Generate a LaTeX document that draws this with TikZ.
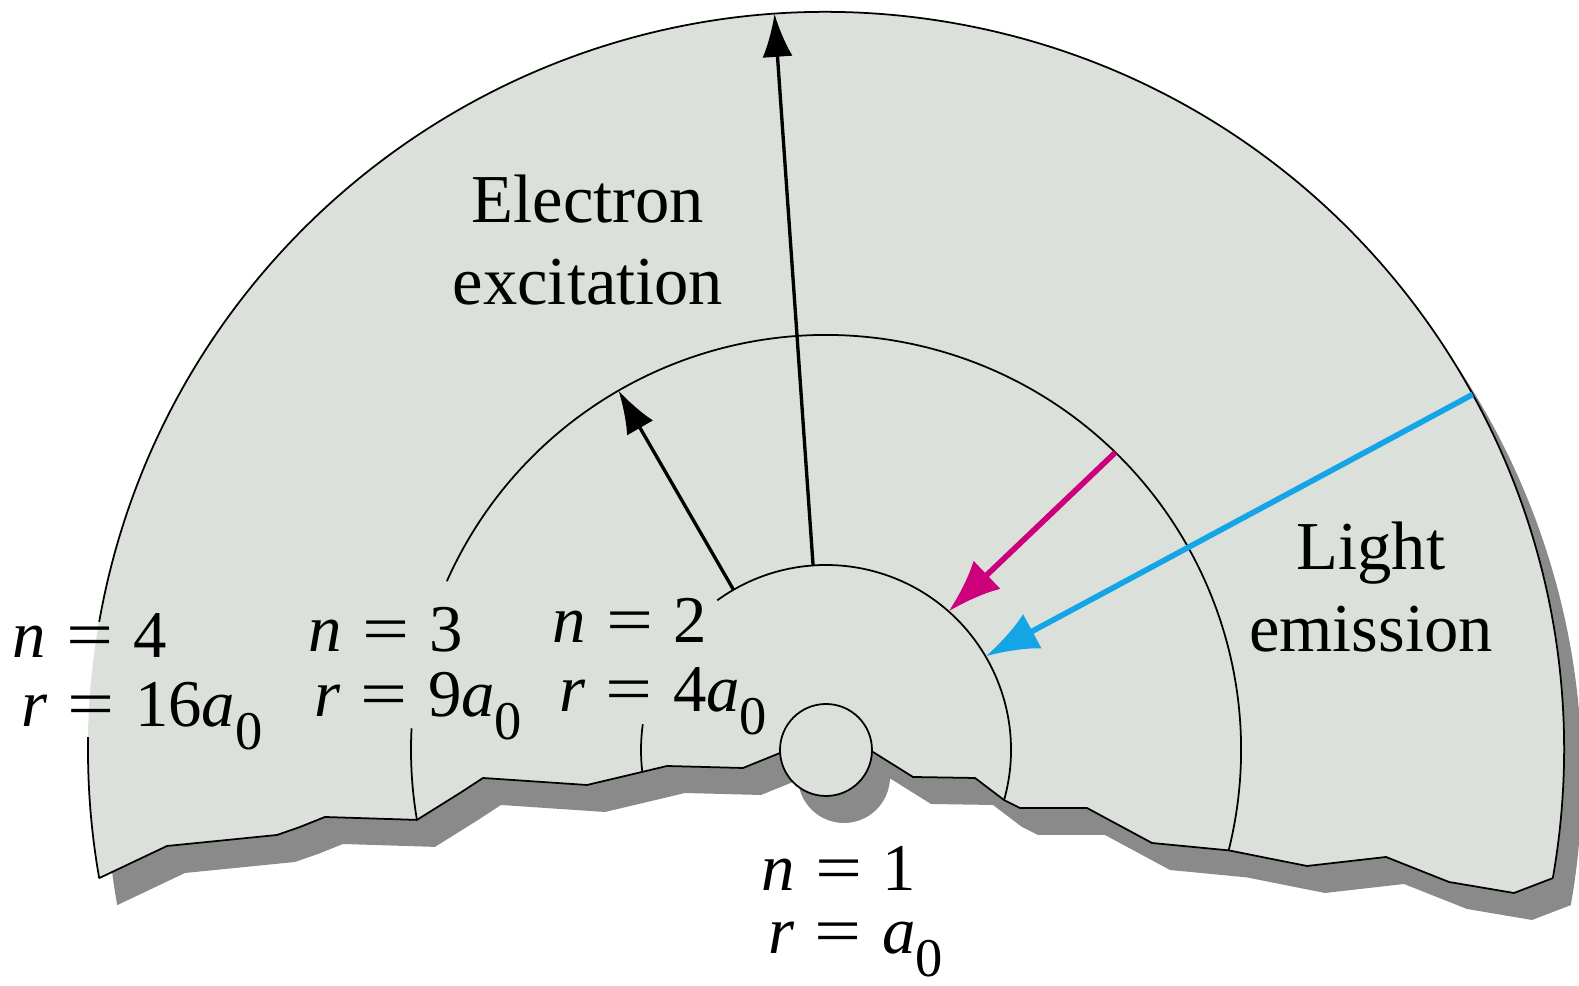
\documentclass[tikz,border=0pt]{standalone}
\usepackage{fontspec}
\setmainfont{Liberation Serif}
\usepackage{graphicx}
\usepackage{xcolor}
\usepackage{tikz}
\usetikzlibrary{arrows.meta}

\definecolor{nen}{RGB}{220,224,219}
\definecolor{bong}{RGB}{138,138,138}
\definecolor{hong}{RGB}{204,0,122}
\definecolor{lam}{RGB}{20,165,230}

\newcommand{\eqs}{\hspace{0.3em}\scalebox{1.25}[1]{=}\hspace{0.3em}}
\newcommand{\azero}{\textit{a}\raisebox{-6.5pt}{\fontsize{15.5}{15.5}\selectfont 0}}
\newcommand{\bienduoi}{-- (688,-143) -- (623,-132) -- (560,-107) -- (481,-116)
    -- (-14:415) -- (326,-93) -- (261,-58) -- (194,-58) -- (-15.7:185)
    -- (149,-28) -- (87,-27) -- (47,-2) -- (-46,-3) -- (-83,-18) -- (-159,-16)
    -- (186.8:185) -- (-239,-35) -- (-343,-28) -- (-366,-43) -- (189.7:415)
    -- (-501,-67) -- (-526,-77) -- (-549,-85) -- (-659,-96) -- (190:738)}

\begin{document}
\begin{tikzpicture}[x=0.01cm, y=0.01cm,
    lvl/.style={anchor=base west, inner sep=0pt, font=\fontsize{19}{23}\selectfont},
    txt/.style={anchor=base, align=center, inner sep=0pt, font=\fontsize{19.5}{23.5}\selectfont},
    orbit/.style={line width=0.5pt},
    up/.style={-{Latex[length=4.3mm, width=3mm]}, line width=0.95pt},
    down/.style={-{Latex[length=5.3mm, width=3.9mm]}, line width=1.6pt}]
    \useasboundingbox (-826,-236) rectangle (753,750);

    % 1. Bóng và nền
    \fill[bong, shift={(18,-27)}] (190:738) arc[start angle=190, end angle=-10, radius=738] \bienduoi -- cycle;
    \fill[bong] (18,-27) circle[radius=46];
    \fill[nen] (190:738) arc[start angle=190, end angle=-10, radius=738] \bienduoi -- cycle;
    \draw[orbit] (-10:738) \bienduoi;
    \draw[orbit] (-10:738) arc[start angle=-10, end angle=170, radius=738];
    \draw[orbit] (179:738) arc[start angle=179, end angle=190, radius=738];
    \filldraw[orbit, fill=nen] (0,0) circle[radius=46];

    % 2. Các quỹ đạo n = 2, 3
    \draw[orbit] (-15.7:185) arc[start angle=-15.7, end angle=126, radius=185];
    \draw[orbit] (172:185) arc[start angle=172, end angle=186.8, radius=185];
    \draw[orbit] (-14:415) arc[start angle=-14, end angle=156, radius=415];
    \draw[orbit] (177:415) arc[start angle=177, end angle=189.7, radius=415];

    % 3. Mũi tên
    \coordinate (up1a) at (94:185);
    \coordinate (up1b) at (94:738);
    \coordinate (up2a) at (120:185);
    \coordinate (up2b) at (120:415);
    \coordinate (dn1a) at (45.8:415);
    \coordinate (dn1b) at (48.5:185);
    \coordinate (dn2a) at (28.8:738);
    \coordinate (dn2b) at (30.4:185);
    \draw[up] (up1a) -- (up1b);
    \draw[up] (up2a) -- (up2b);
    \draw[down, hong] (dn1a) -- (dn1b);
    \draw[down, lam] (dn2a) -- (dn2b);

    % 4. Nhãn
    \node[lvl] (n4) at (-814,92) {\textit{n}\eqs 4};
    \node[lvl] (r4) at (-805,23) {\textit{r}\eqs 16\azero};
    \node[lvl] (n3) at (-518,98) {\textit{n}\eqs 3};
    \node[lvl] (r3) at (-512,33) {\textit{r}\eqs 9\azero};
    \node[lvl] (n2) at (-274,107) {\textit{n}\eqs 2};
    \node[lvl] (r2) at (-267,38) {\textit{r}\eqs 4\azero};
    \node[lvl] (n1) at (-65,-141) {\textit{n}\eqs 1};
    \node[lvl] (r1) at (-58,-204) {\textit{r}\eqs \azero};
    \node[txt] (kt) at (-238,445) {Electron\\excitation};
    \node[txt] (px) at (545,98) {Light\\emission};
\end{tikzpicture}
\end{document}
